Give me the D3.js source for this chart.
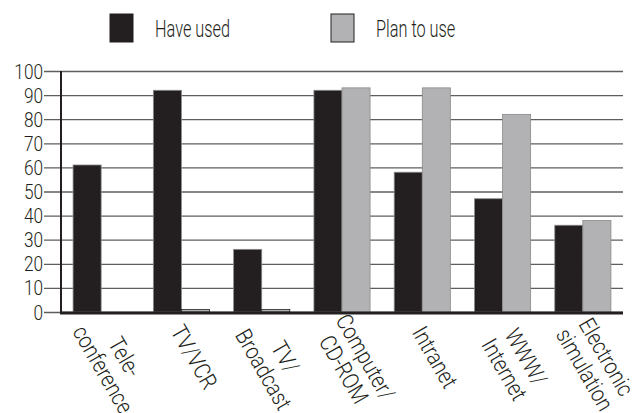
<!DOCTYPE html>
<head>
<meta charset="utf-8">
<script src="https://cdn.jsdelivr.net/npm/d3@7/dist/d3.min.js"></script>
<style>
body { margin: 0; background: #fff; }
text { font-family: Roboto, "Liberation Sans", sans-serif; font-weight: 300; fill: #231f20; }
.grid line { stroke: #5e5e5e; stroke-width: 1.3; }
.grid path { stroke-width: 0; }
</style>
</head>
<body>
<div id="chart"></div>
<script>
// data
var categories = ["Tele-\nconference", "TV/VCR", "TV/\nBroadcast", "Computer/\nCD-ROM", "Intranet", "WWW/\nInternet", "Electronic\nsimulation"];
var haveUsed  = [61, 92, 26, 92, 58, 47, 36];
var planToUse = [0, 1, 1, 93, 93, 82, 38];
var seriesNames = ["Have used", "Plan to use"];
var yTicks = [0, 10, 20, 30, 40, 50, 60, 70, 80, 90, 100];

var colors = {"Have used": "#231f20", "Plan to use": "#b2b2b5"};

var W = 634, H = 413;
var plotL = 61, plotR = 623, plotT = 71, plotB = 312;

var svg = d3.select("#chart").append("svg")
    .attr("width", W)
    .attr("height", H);

var x0 = d3.scaleBand().domain(categories).range([plotL, plotR]).paddingInner(0).paddingOuter(0);
var x1 = d3.scaleBand().domain(seriesNames).range([0, x0.bandwidth()]).paddingInner(0).paddingOuter(0.43);
var y = d3.scaleLinear().domain([0, 100]).range([plotB, plotT]);

// gridlines + tick marks
svg.append("g")
    .attr("class", "grid")
    .attr("transform", "translate(" + plotL + ",0)")
    .call(d3.axisLeft(y).tickValues(yTicks).tickSize(-(plotR - plotL)).tickFormat(""))
    .selectAll("line").attr("x1", -17);

// tick labels (condensed look via horizontal scale)
svg.append("g").selectAll("g")
    .data(yTicks)
    .enter().append("g")
    .attr("transform", function(d) { return "translate(43," + y(d) + ") scale(0.82,1)"; })
    .append("text")
    .attr("dy", "0.36em")
    .attr("text-anchor", "end")
    .style("font-size", "21px")
    .text(function(d) { return d; });

// bars
var rows = categories.map(function(c, i) {
  return {cat: c, vals: [{k: "Have used", v: haveUsed[i]}, {k: "Plan to use", v: planToUse[i]}]};
});

var grp = svg.append("g").selectAll("g")
    .data(rows)
    .enter().append("g")
    .attr("transform", function(d) { return "translate(" + x0(d.cat) + ",0)"; });

grp.selectAll("rect")
    .data(function(d) { return d.vals.filter(function(e) { return e.v > 0; }); })
    .enter().append("rect")
    .attr("x", function(d) { return x1(d.k); })
    .attr("width", x1.bandwidth())
    .attr("y", function(d) { return y(d.v); })
    .attr("height", function(d) { return plotB - y(d.v); })
    .attr("fill", function(d) { return colors[d.k]; })
    .attr("stroke", function(d) { return d.v < 3 ? "#231f20" : "#8a8a8a"; })
    .attr("stroke-width", 0.8);

// axes lines
svg.append("line")
    .attr("x1", plotL).attr("x2", plotL)
    .attr("y1", plotT).attr("y2", plotB)
    .attr("stroke", "#231f20").attr("stroke-width", 2);
svg.append("line")
    .attr("x1", plotL - 1).attr("x2", plotR)
    .attr("y1", plotB + 1).attr("y2", plotB + 1)
    .attr("stroke", "#231f20").attr("stroke-width", 3);

// rotated category labels
var lh = 25;
var lab = svg.append("g").selectAll("g")
    .data(categories)
    .enter().append("g")
    .attr("transform", function(d) {
      var n = d.split("\n").length;
      var cx = x0(d) + x0.bandwidth() / 2 + 13;
      var cy = 357 + 6 * (n - 1);
      return "translate(" + cx + "," + cy + ") rotate(60) scale(0.86,1)";
    });

lab.selectAll("text")
    .data(function(d) {
      var parts = d.split("\n");
      return parts.map(function(p, i) { return {t: p, i: i, n: parts.length}; });
    })
    .enter().append("text")
    .attr("text-anchor", "middle")
    .attr("y", function(d) { return (d.i - (d.n - 1) / 2) * lh; })
    .attr("dy", "0.36em")
    .style("font-size", "23px")
    .text(function(d) { return d.t; });

// legend
var legX = [110, 331];
var leg = svg.append("g").selectAll("g")
    .data(seriesNames)
    .enter().append("g")
    .attr("transform", function(d, i) { return "translate(" + legX[i] + ",14)"; });

leg.append("rect")
    .attr("width", 23).attr("height", 28)
    .attr("fill", function(d) { return colors[d]; })
    .attr("stroke", "#231f20").attr("stroke-width", 1);

leg.append("g")
    .attr("transform", "translate(45,14) scale(0.68,1)")
    .append("text")
    .attr("dy", "0.36em")
    .style("font-size", "24px")
    .text(function(d) { return d; });
</script>
</body>
